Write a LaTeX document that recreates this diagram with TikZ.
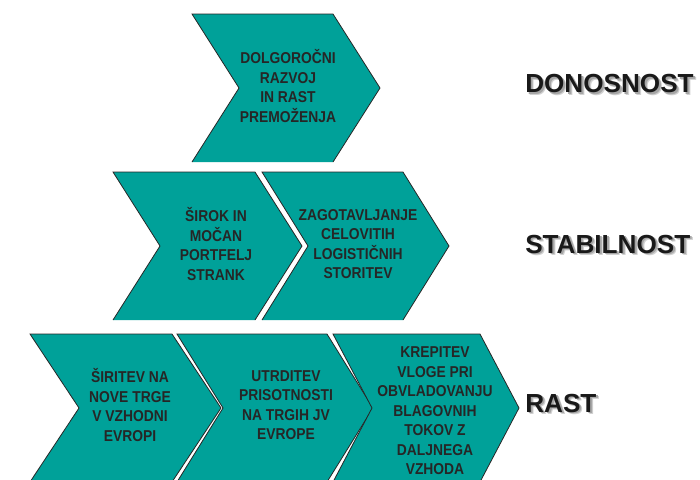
\documentclass[tikz,border=0pt]{standalone}
\usepackage{fontspec}
\setmainfont{Liberation Sans}
\newfontfamily\goalfont{Liberation Sans}[FakeStretch=0.88]
\usetikzlibrary{positioning}
\definecolor{petrol}{HTML}{00A199}
\definecolor{inkgray}{HTML}{262626}

% chevron: left x, top y, body width, tip depth, half height
\newcommand{\chevron}[5]{%
  \fill[petrol] (#1,#2) -- ({#1+#3},#2) -- ({#1+#3+#4},{#2+#5}) -- ({#1+#3},{#2+2*#5})
    -- (#1,{#2+2*#5}) -- ({#1+#4},{#2+#5}) -- cycle;
  \draw[rim] (#1,{#2+2*#5}) -- ({#1+#4},{#2+#5}) -- (#1,#2) -- ({#1+#3},#2)
    -- ({#1+#3+#4},{#2+#5}) -- ({#1+#3},{#2+2*#5});
}
% level label with a soft grey shadow
\newcommand{\levellabel}[3]{%
  \node[level,text=black!18,xshift=2.2pt,yshift=-2.2pt] at (#2) {#3};
  \node[level,text=black!35,xshift=1.4pt,yshift=-1.4pt] at (#2) {#3};
  \node[level] (#1) at (#2) {#3};
}

\begin{document}
\begin{tikzpicture}[x=0.75pt,y=-0.75pt,
  rim/.style={draw=black!85,line width=0.6pt,line join=miter},
  goal/.style={align=center,inner sep=0pt,text=inkgray,
    font=\goalfont\fontsize{11.8}{14.6}\selectfont\bfseries},
  level/.style={anchor=west,inner sep=0pt,text=black!90,
    font=\fontsize{19.6}{22}\selectfont\bfseries}]
\useasboundingbox (0,0) rectangle (700,479);

% top row
\chevron{192}{14}{141}{47}{74}
\node[goal] (razvoj) at (288,86) {DOLGOROČNI\\RAZVOJ\\IN RAST\\PREMOŽENJA};

% middle row
\chevron{113}{172}{142}{47}{74}
\chevron{262}{172}{141}{46}{74}
\node[goal] (portfelj) at (216,244) {ŠIROK IN\\MOČAN\\PORTFELJ\\STRANK};
\node[goal] (storitve) at (358,244) {ZAGOTAVLJANJE\\CELOVITIH\\LOGISTIČNIH\\STORITEV};

% bottom row
\chevron{30}{334}{142}{49}{74}
\chevron{177}{334}{150}{46}{74}
\chevron{333}{334}{147}{39}{74}
\node[goal] (sirtev) at (130,405) {ŠIRITEV NA\\NOVE TRGE\\V VZHODNI\\EVROPI};
\node[goal] (utrditev) at (286,405) {UTRDITEV\\PRISOTNOSTI\\NA TRGIH JV\\EVROPE};
\node[goal] (krepitev) at (435,411) {KREPITEV\\VLOGE PRI\\OBVLADOVANJU\\BLAGOVNIH\\TOKOV Z\\DALJNEGA\\VZHODA};

% levels on the right
\levellabel{donosnost}{525,84}{DONOSNOST}
\levellabel{stabilnost}{525,244}{STABILNOST}
\levellabel{rast}{525,403}{RAST}
\end{tikzpicture}
\end{document}
